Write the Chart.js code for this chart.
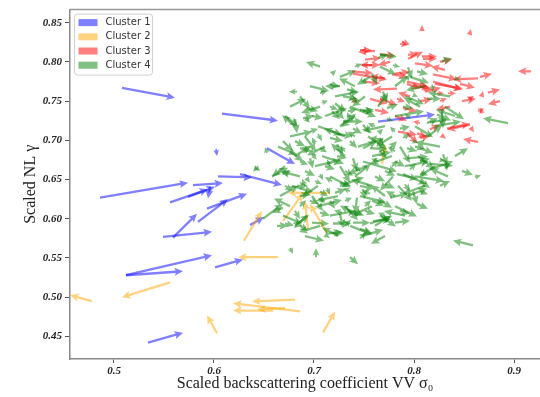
<!DOCTYPE html>
<html>
<head>
<meta charset="utf-8">
<script src="https://cdn.jsdelivr.net/npm/chart.js@4.4.1/dist/chart.umd.min.js"></script>
<style>
  html, body { margin: 0; padding: 0; background: #fff; }
  #wrap { width: 540px; height: 397px; }
</style>
</head>
<body>
<div id="wrap"><canvas id="quiverChart" width="540" height="397"></canvas></div>
<script>
const clusterNames = ['Cluster 1', 'Cluster 2', 'Cluster 3', 'Cluster 4'];
const clusterColors = ['rgba(0, 0, 255, 0.5)', 'rgba(255, 165, 0, 0.5)', 'rgba(255, 0, 0, 0.5)', 'rgba(0, 128, 0, 0.5)'];
const xTicks = [0.5, 0.6, 0.7, 0.8, 0.9];
const yTicks = [0.45, 0.5, 0.55, 0.6, 0.65, 0.7, 0.75, 0.8, 0.85];

// each arrow: [x, y, u, v]  (tail position and displacement)
const cluster1 = [
    [0.508, 0.767, 0.053, -0.0127], [0.608, 0.734, 0.056, -0.0089], [0.602, 0.689, 0.001, -0.0089],
    [0.486, 0.627, 0.088, 0.019], [0.579, 0.643, 0.030, 0.0025], [0.604, 0.654, 0.034, -0.0013],
    [0.626, 0.657, 0.042, -0.014], [0.653, 0.690, 0.028, -0.0203], [0.556, 0.621, 0.038, 0.0165],
    [0.574, 0.628, 0.027, 0.0127], [0.596, 0.641, -0.002, -0.0152], [0.584, 0.596, 0.030, 0.0292],
    [0.593, 0.613, 0.040, 0.019], [0.549, 0.577, 0.049, 0.0063], [0.559, 0.576, 0.024, 0.0304],
    [0.512, 0.528, 0.086, 0.0254], [0.512, 0.528, 0.057, 0.0051], [0.601, 0.538, 0.028, 0.0102],
    [0.534, 0.442, 0.035, 0.0127], [0.764, 0.724, 0.057, 0.0089], [0.636, 0.592, 0.014, 0.0102]
];
const cluster2 = [
    [0.478, 0.495, -0.022, 0.0076], [0.556, 0.519, -0.048, -0.019], [0.603, 0.454, -0.010, 0.0228],
    [0.630, 0.572, 0.018, 0.038], [0.664, 0.551, -0.040, 0], [0.681, 0.497, -0.043, -0.0025],
    [0.686, 0.482, -0.067, 0.0102], [0.659, 0.483, -0.040, 0], [0.671, 0.486, -0.028, -0.0013],
    [0.709, 0.455, 0.012, 0.0266], [0.716, 0.633, -0.042, 0], [0.669, 0.597, 0.020, 0.0355],
    [0.694, 0.587, -0.003, 0.0355], [0.713, 0.582, -0.017, 0.0368], [0.768, 0.670, 0.003, 0.0254]
];
const cluster3 = [
    [0.808, 0.841, 0, 0.006], [0.856, 0.837, 0.001, 0.005], [0.761, 0.814, -0.017, -0.0013],
    [0.786, 0.823, 0.008, -0.0013], [0.766, 0.810, 0.015, -0.0025], [0.794, 0.804, 0.015, 0.0089],
    [0.809, 0.804, 0.014, 0], [0.748, 0.796, 0.018, 0], [0.758, 0.796, -0.012, 0],
    [0.738, 0.788, 0.021, -0.0025], [0.739, 0.785, 0.034, -0.0076], [0.781, 0.785, 0.015, 0.0025],
    [0.864, 0.779, -0.025, -0.0013], [0.866, 0.781, 0.012, 0.0038], [0.917, 0.788, -0.013, 0],
    [0.808, 0.807, 0.015, 0], [0.819, 0.784, 0.024, -0.0063], [0.821, 0.772, 0.028, -0.0063],
    [0.806, 0.769, 0.010, -0.0025], [0.834, 0.760, 0.008, 0], [0.856, 0.753, 0.004, 0.0038],
    [0.868, 0.758, 0.001, 0.005], [0.874, 0.761, 0.012, 0.0038], [0.864, 0.737, 0.006, 0.0038],
    [0.806, 0.750, 0.012, 0.0025], [0.856, 0.720, -0.023, -0.0063], [0.864, 0.698, -0.015, 0.0038],
    [0.806, 0.703, 0.010, 0.0025], [0.858, 0.714, 0.002, -0.0038], [0.868, 0.734, -0.001, 0.0076],
    [0.829, 0.705, 0.003, -0.003], [0.793, 0.709, 0.011, -0.0127], [0.803, 0.709, 0.010, -0.005],
    [0.756, 0.753, 0.017, -0.0063], [0.783, 0.766, -0.024, -0.0013], [0.789, 0.741, 0.014, -0.0038],
    [0.819, 0.775, 0.029, -0.0102], [0.823, 0.760, 0.007, 0], [0.741, 0.750, 0.003, -0.003],
    [0.793, 0.775, 0.020, -0.0063], [0.746, 0.815, 0.012, 0], [0.778, 0.784, 0.015, -0.0025],
    [0.793, 0.772, 0.013, -0.0063], [0.766, 0.753, 0.017, -0.0076], [0.783, 0.753, 0.008, -0.0038],
    [0.794, 0.809, 0.010, 0.0013], [0.788, 0.826, 0.008, -0.0038], [0.784, 0.711, 0.019, -0.0038],
    [0.833, 0.715, 0.023, 0.0063], [0.799, 0.770, 0.019, -0.005], [0.751, 0.775, 0.015, -0.0025],
    [0.826, 0.750, 0.007, 0.0038], [0.806, 0.722, -0.007, 0.0025],
    [0.751, 0.803, 0.016, 0.002], [0.776, 0.800, -0.012, -0.004], [0.801, 0.798, 0.018, -0.003],
    [0.831, 0.790, -0.014, 0.004], [0.846, 0.772, 0.015, -0.005], [0.771, 0.779, -0.015, 0.003],
    [0.811, 0.762, 0.016, 0.005], [0.836, 0.743, -0.014, -0.004], [0.781, 0.731, 0.012, -0.006],
    [0.816, 0.714, 0.010, 0.006], [0.848, 0.750, 0.014, 0.003], [0.886, 0.750, -0.012, -0.004],
    [0.761, 0.739, 0.014, -0.004], [0.796, 0.756, -0.012, 0.005], [0.826, 0.800, 0.012, 0.003]
];
const cluster4 = [
    [0.828, 0.801, 0.010, 0.0038], [0.764, 0.805, 0.010, 0.0051], [0.719, 0.786, 0.003, 0.0038],
    [0.683, 0.762, -0.008, 0], [0.726, 0.769, -0.015, 0], [0.733, 0.765, 0.011, -0.0038],
    [0.708, 0.748, 0.006, 0.0025], [0.736, 0.753, 0.010, -0.0025], [0.721, 0.747, 0.011, -0.0102],
    [0.693, 0.741, 0.011, -0.0038], [0.689, 0.728, 0.011, 0.0038], [0.681, 0.727, 0.002, -0.0178],
    [0.723, 0.737, 0.007, -0.0102], [0.749, 0.737, 0.011, 0.0025], [0.773, 0.741, 0.011, 0.0051],
    [0.794, 0.793, 0.004, -0.014], [0.803, 0.788, 0.011, -0.0038], [0.813, 0.753, 0.014, 0],
    [0.823, 0.733, 0.014, -0.0076], [0.813, 0.722, 0.011, 0.0063], [0.828, 0.737, 0.001, -0.0216],
    [0.894, 0.722, -0.025, 0.0063], [0.848, 0.661, 0.011, -0.0051], [0.861, 0.653, 0.006, 0.0025],
    [0.676, 0.686, 0.013, -0.0127], [0.696, 0.677, 0.003, -0.0127], [0.723, 0.708, 0.016, -0.0025],
    [0.756, 0.690, 0.017, -0.0013], [0.793, 0.677, 0.021, 0.0025], [0.739, 0.677, 0.004, -0.0165],
    [0.816, 0.670, 0.023, -0.0025], [0.829, 0.682, 0.004, -0.014], [0.789, 0.657, 0.024, -0.0127],
    [0.669, 0.614, -0.011, -0.0063], [0.663, 0.591, 0.011, 0], [0.676, 0.563, 0.003, -0.0076],
    [0.702, 0.551, 0, 0.0114], [0.736, 0.551, 0.008, -0.0089], [0.859, 0.566, -0.020, 0.0063],
    [0.714, 0.581, 0.014, 0.0025], [0.739, 0.595, 0.017, 0], [0.756, 0.594, 0.022, 0.0089],
    [0.803, 0.619, 0.011, -0.0063], [0.783, 0.657, 0.021, -0.0063], [0.726, 0.646, 0.011, -0.0038],
    [0.721, 0.633, 0.011, 0.0051], [0.746, 0.642, 0.014, -0.0038], [0.749, 0.638, 0.002, -0.0127],
    [0.743, 0.627, -0.002, -0.0203], [0.758, 0.623, 0.012, -0.0063], [0.776, 0.627, 0.018, 0.0051],
    [0.739, 0.610, 0.011, -0.0063], [0.716, 0.623, 0.005, -0.0102], [0.719, 0.594, 0.018, 0],
    [0.759, 0.597, 0.018, 0.0025], [0.719, 0.582, 0.011, 0], [0.726, 0.606, 0.003, -0.0178],
    [0.799, 0.635, 0.004, -0.0165], [0.749, 0.673, 0.034, -0.0127], [0.641, 0.667, 0.005, -0.0063],
    [0.669, 0.657, 0.008, 0.0038], [0.683, 0.642, 0.011, 0], [0.706, 0.657, 0.003, -0.0076],
    [0.696, 0.623, 0.008, -0.0038], [0.698, 0.595, 0.017, -0.0013], [0.681, 0.610, 0.005, -0.0102],
    [0.671, 0.594, 0.009, -0.0025], [0.649, 0.600, 0.020, 0.019], [0.698, 0.731, 0.011, -0.0025],
    [0.691, 0.728, 0.005, -0.0051], [0.669, 0.699, 0.010, -0.0127], [0.681, 0.699, 0.010, -0.0063],
    [0.686, 0.690, 0.012, -0.0038], [0.704, 0.708, 0.004, -0.0089], [0.698, 0.682, 0.005, -0.0063],
    [0.706, 0.690, 0.007, -0.0051], [0.766, 0.809, 0.017, -0.0025], [0.758, 0.785, 0.005, -0.014],
    [0.749, 0.777, 0.004, -0.0051], [0.716, 0.771, 0.010, -0.0025], [0.729, 0.756, 0.014, -0.0025],
    [0.716, 0.743, 0.008, -0.0038], [0.718, 0.737, 0.008, -0.0102], [0.734, 0.737, 0.009, 0.0025],
    [0.746, 0.739, 0.014, -0.0025], [0.793, 0.779, 0.003, 0.0051], [0.769, 0.762, 0.004, -0.0152],
    [0.789, 0.743, 0.010, -0.0025], [0.799, 0.758, 0.005, -0.0025], [0.729, 0.724, 0.020, 0],
    [0.739, 0.715, 0.009, -0.0063], [0.749, 0.720, 0.007, -0.0114], [0.766, 0.711, 0.003, 0.0038],
    [0.773, 0.728, 0.006, -0.0038], [0.786, 0.715, 0.010, 0.0025], [0.789, 0.703, 0.007, 0.0051],
    [0.799, 0.699, 0.005, -0.0025], [0.716, 0.703, 0.013, -0.0038], [0.723, 0.695, 0.006, -0.0127],
    [0.736, 0.699, 0.007, -0.0089], [0.749, 0.690, 0.014, 0.0089], [0.766, 0.703, 0.003, -0.0076],
    [0.776, 0.690, 0.007, 0.0089], [0.793, 0.690, 0.010, -0.0038], [0.723, 0.680, 0.010, -0.0025],
    [0.766, 0.686, 0.007, -0.0089], [0.806, 0.673, 0.010, 0.0038], [0.826, 0.642, 0.010, 0.0063],
    [0.806, 0.635, 0.008, -0.0038], [0.806, 0.648, 0.010, -0.0089], [0.806, 0.657, 0.007, 0.0013],
    [0.816, 0.663, 0.023, 0.0102], [0.832, 0.670, 0.001, -0.0089], [0.781, 0.673, 0.010, -0.0063],
    [0.771, 0.661, 0.010, -0.0063], [0.761, 0.654, 0.010, -0.0063], [0.731, 0.661, 0.008, -0.0063],
    [0.711, 0.667, 0.010, -0.0038], [0.691, 0.661, 0.010, -0.0063], [0.671, 0.642, 0.007, -0.0063],
    [0.686, 0.629, 0.010, 0.0025], [0.706, 0.635, 0.008, -0.0063], [0.731, 0.623, 0.007, 0.0038],
    [0.751, 0.610, 0.010, -0.0038], [0.766, 0.623, 0.012, -0.0089], [0.786, 0.610, 0.010, -0.0038],
    [0.781, 0.595, 0.015, 0.0025], [0.706, 0.608, 0.010, -0.0038], [0.686, 0.591, 0.008, -0.0063],
    [0.746, 0.587, 0.012, -0.0051], [0.771, 0.644, 0.010, -0.0051], [0.791, 0.644, 0.005, -0.0089],
    [0.696, 0.711, 0.008, 0.0038], [0.706, 0.760, 0.007, 0.0025], [0.741, 0.794, 0.007, 0.0038],
    [0.779, 0.796, 0.007, -0.0025], [0.653, 0.684, -0.002, 0.0076], [0.643, 0.665, -0.004, -0.0051],
    [0.801, 0.692, 0.010, -0.0025], [0.816, 0.723, 0.017, 0.0038], [0.806, 0.690, 0.013, -0.0063],
    [0.826, 0.675, 0.005, -0.0013], [0.818, 0.771, 0.001, -0.0089], [0.841, 0.779, 0.005, -0.0013],
    [0.693, 0.651, 0.003, -0.0051], [0.713, 0.639, 0.003, -0.0076], [0.686, 0.673, 0.008, -0.0038],
    [0.701, 0.648, 0.007, -0.0038], [0.718, 0.648, -0.007, 0.0051], [0.736, 0.635, -0.007, 0.0038],
    [0.756, 0.632, -0.008, 0.0038], [0.781, 0.629, -0.009, 0.0063], [0.711, 0.623, -0.007, 0.0025],
    [0.728, 0.608, -0.008, 0.0025], [0.771, 0.604, -0.007, 0.0038], [0.746, 0.661, -0.006, 0.0063],
    [0.764, 0.673, -0.007, 0.0038], [0.781, 0.686, -0.007, 0.0051], [0.741, 0.705, -0.007, 0.0063],
    [0.761, 0.718, -0.007, 0.0038], [0.781, 0.711, -0.005, 0.0063], [0.796, 0.728, -0.005, 0.0063],
    [0.731, 0.686, -0.005, 0.0063], [0.716, 0.667, -0.003, 0.0089], [0.691, 0.642, -0.003, 0.0089],
    [0.701, 0.695, -0.003, 0.0089], [0.736, 0.727, -0.003, 0.0089], [0.758, 0.699, 0.005, 0.0076],
    [0.778, 0.667, 0.006, 0.0076], [0.796, 0.663, 0.006, 0.0076], [0.751, 0.616, 0.006, 0.0076],
    [0.731, 0.591, 0.006, 0.0076], [0.686, 0.616, 0.006, 0.0076], [0.746, 0.575, 0.006, 0.0076],
    [0.713, 0.578, 0.003, -0.0025],
    [0.696, 0.769, 0.019, -0.006], [0.741, 0.769, -0.016, 0.010], [0.781, 0.769, 0.013, 0.013],
    [0.811, 0.769, -0.019, -0.005], [0.686, 0.756, 0.010, -0.016], [0.721, 0.756, 0.024, 0.006],
    [0.751, 0.756, -0.013, -0.013], [0.791, 0.756, 0.019, -0.010], [0.836, 0.756, -0.022, 0.005],
    [0.676, 0.743, 0.016, 0.010], [0.706, 0.743, -0.019, -0.008], [0.736, 0.743, 0.026, -0.013],
    [0.764, 0.743, 0.010, 0.018], [0.806, 0.743, -0.016, 0.011], [0.831, 0.743, 0.019, -0.016],
    [0.671, 0.731, 0.013, -0.013], [0.711, 0.731, 0.022, 0.010], [0.741, 0.731, -0.014, -0.014],
    [0.781, 0.731, 0.029, 0.006], [0.841, 0.731, -0.019, 0.008], [0.681, 0.718, -0.013, 0.014],
    [0.704, 0.718, 0.024, -0.011], [0.726, 0.718, 0.016, 0.016], [0.771, 0.718, -0.022, -0.006],
    [0.801, 0.718, 0.018, -0.014], [0.821, 0.718, 0.026, 0.006], [0.676, 0.705, 0.022, 0.006],
    [0.691, 0.705, 0.011, -0.019], [0.731, 0.705, -0.021, 0.010], [0.754, 0.705, 0.019, -0.016],
    [0.778, 0.705, -0.016, -0.013], [0.814, 0.705, 0.014, 0.014], [0.664, 0.692, 0.019, -0.010],
    [0.711, 0.692, -0.018, -0.011], [0.744, 0.692, 0.026, 0.010], [0.786, 0.692, 0.010, -0.021],
    [0.826, 0.692, -0.024, 0.006], [0.681, 0.680, 0.016, 0.013], [0.708, 0.680, 0.022, -0.010],
    [0.731, 0.680, -0.014, 0.016], [0.758, 0.680, 0.019, 0.005], [0.778, 0.680, -0.022, -0.010],
    [0.804, 0.680, 0.016, -0.016], [0.841, 0.680, 0.013, 0.010], [0.671, 0.667, -0.013, -0.013],
    [0.701, 0.667, 0.026, 0.008], [0.726, 0.667, 0.010, -0.021], [0.753, 0.667, -0.019, -0.010],
    [0.791, 0.667, 0.024, 0.006], [0.821, 0.667, -0.016, -0.013], [0.658, 0.654, 0.016, 0.011],
    [0.686, 0.654, -0.019, 0.006], [0.716, 0.654, 0.021, -0.014], [0.741, 0.654, 0.016, 0.016],
    [0.779, 0.654, -0.013, -0.018], [0.801, 0.654, 0.029, -0.006], [0.834, 0.654, -0.018, 0.010],
    [0.678, 0.642, 0.021, -0.008], [0.704, 0.642, -0.016, -0.014], [0.726, 0.642, 0.024, 0.011],
    [0.758, 0.642, -0.021, 0.008], [0.784, 0.642, 0.014, -0.019], [0.811, 0.642, -0.022, -0.010],
    [0.666, 0.629, 0.018, 0.013], [0.698, 0.629, 0.011, -0.019], [0.724, 0.629, -0.022, -0.006],
    [0.746, 0.629, 0.026, -0.008], [0.771, 0.629, -0.014, 0.014], [0.794, 0.629, 0.019, 0.010],
    [0.676, 0.616, -0.016, 0.010], [0.704, 0.616, 0.024, 0.008], [0.731, 0.616, 0.013, -0.018],
    [0.758, 0.616, -0.019, -0.011], [0.781, 0.616, 0.022, -0.013], [0.669, 0.604, 0.019, -0.010],
    [0.693, 0.604, -0.013, -0.016], [0.716, 0.604, 0.026, 0.006], [0.744, 0.604, -0.018, 0.013],
    [0.766, 0.604, 0.016, -0.014], [0.791, 0.604, -0.021, 0.006], [0.681, 0.591, 0.014, 0.014],
    [0.706, 0.591, -0.021, -0.008], [0.736, 0.591, 0.022, -0.011], [0.761, 0.591, 0.016, 0.013],
    [0.691, 0.578, 0.019, -0.006], [0.724, 0.578, -0.016, 0.011], [0.748, 0.578, 0.021, 0.008],
    [0.771, 0.578, -0.014, -0.010], [0.726, 0.781, 0.016, 0.008], [0.756, 0.781, -0.013, -0.010],
    [0.796, 0.781, 0.019, -0.008], [0.706, 0.794, -0.014, 0.006], [0.766, 0.794, 0.016, -0.010]
];
const clusters = [cluster1, cluster2, cluster3, cluster4];

function drawArrow(ctx, x0, y0, x1, y1) {
    const dx = x1 - x0, dy = y1 - y0;
    const len = Math.hypot(dx, dy);
    if (len < 0.5) return;
    let w = 1.15, hl = 8.5, hw = 4.0;
    const minLen = hl * 1.2;
    const s = Math.max(0.7, Math.min(1, len / minLen));
    w *= s; hl *= s; hw *= s;
    const ha = hl * 0.85;
    const cx = dx / len, cy = dy / len;
    const nx = -cy, ny = cx;
    let pts;
    if (len - ha > 0) {
        pts = [[0, -w], [len - ha, -w], [len - hl, -hw], [len, 0], [len - hl, hw], [len - ha, w], [0, w]];
    } else {
        pts = [[len - hl, -hw], [len, 0], [len - hl, hw]];
    }
    ctx.beginPath();
    pts.forEach(([a, b], i) => {
        const px = x0 + a * cx + b * nx, py = y0 + a * cy + b * ny;
        if (i === 0) ctx.moveTo(px, py); else ctx.lineTo(px, py);
    });
    ctx.closePath();
    ctx.fill();
}

const quiverPlugin = {
    id: 'quiver',
    afterDatasetsDraw(chart) {
        const { ctx, chartArea, scales } = chart;
        ctx.save();
        ctx.beginPath();
        ctx.rect(chartArea.left, chartArea.top, chartArea.right - chartArea.left, chartArea.bottom - chartArea.top);
        ctx.clip();
        clusters.forEach((arrows, i) => {
            ctx.fillStyle = clusterColors[i];
            arrows.forEach(([ax, ay, u, v]) => {
                drawArrow(ctx,
                    scales.x.getPixelForValue(ax), scales.y.getPixelForValue(ay),
                    scales.x.getPixelForValue(ax + u), scales.y.getPixelForValue(ay + v));
            });
        });
        ctx.restore();
    },
    afterDraw(chart) {
        const { ctx, chartArea } = chart;
        ctx.save();
        // top spine
        ctx.strokeStyle = '#999';
        ctx.lineWidth = 1.5;
        ctx.beginPath();
        ctx.moveTo(chartArea.left, chartArea.top);
        ctx.lineTo(chartArea.right, chartArea.top);
        ctx.stroke();

        // legend box
        const bx = chartArea.left + 4.5, by = chartArea.top + 4.5, bw = 78, bh = 61;
        ctx.fillStyle = 'rgba(255, 255, 255, 0.8)';
        ctx.strokeStyle = '#d0d0d0';
        ctx.lineWidth = 1;
        ctx.beginPath();
        ctx.roundRect(bx, by, bw, bh, 3);
        ctx.fill();
        ctx.stroke();
        ctx.font = '10px "DejaVu Sans"';
        ctx.textBaseline = 'middle';
        clusterNames.forEach((name, i) => {
            const rowY = by + 8.5 + i * 14.2;
            ctx.fillStyle = clusterColors[i];
            ctx.fillRect(bx + 4, rowY - 3.5, 19, 7);
            ctx.fillStyle = '#333';
            ctx.fillText(name, bx + 31, rowY);
        });
        ctx.restore();
    }
};

const tickFont = { family: '"Liberation Serif", serif', size: 11, style: 'italic', weight: 'bold' };
const titleFont = { family: '"Liberation Serif", serif', size: 16 };

new Chart(document.getElementById('quiverChart').getContext('2d'), {
    type: 'scatter',
    data: {
        datasets: clusters.map((arrows, i) => ({
            label: clusterNames[i],
            data: arrows.map(a => ({ x: a[0], y: a[1] })),
            pointRadius: 0,
            backgroundColor: clusterColors[i],
            borderColor: clusterColors[i]
        }))
    },
    options: {
        responsive: false,
        animation: false,
        events: [],
        layout: { padding: { top: 7.5, right: 0, left: 0, bottom: 0 } },
        scales: {
            x: {
                type: 'linear',
                min: 0.456,
                max: 0.926,
                afterBuildTicks: axis => { axis.ticks = xTicks.map(v => ({ value: v })); },
                afterFit: axis => { axis.height = 38; },
                ticks: {
                    font: tickFont,
                    color: '#222',
                    padding: 2,
                    maxRotation: 0,
                    callback: v => v.toFixed(1)
                },
                grid: { drawOnChartArea: false, drawTicks: true, tickLength: 4, color: '#555' },
                border: { display: true, color: '#888', width: 1.5 },
                title: {
                    display: true,
                    text: 'Scaled backscattering coefficient VV σ₀',
                    font: titleFont,
                    color: '#222',
                    padding: { top: 0, bottom: 4 }
                }
            },
            y: {
                type: 'linear',
                min: 0.4212,
                max: 0.8667,
                afterBuildTicks: axis => { axis.ticks = yTicks.map(v => ({ value: v })); },
                afterFit: axis => { axis.width = 70; },
                ticks: {
                    font: tickFont,
                    color: '#222',
                    padding: 3,
                    callback: v => v.toFixed(2)
                },
                grid: { drawOnChartArea: false, drawTicks: true, tickLength: 5, color: '#555' },
                border: { display: true, color: '#888', width: 1.5 },
                title: {
                    display: true,
                    text: 'Scaled NL γ',
                    font: titleFont,
                    color: '#222',
                    padding: { top: 21, bottom: 0 }
                }
            }
        },
        plugins: {
            legend: { display: false },
            tooltip: { enabled: false }
        }
    },
    plugins: [quiverPlugin]
});
</script>
</body>
</html>
